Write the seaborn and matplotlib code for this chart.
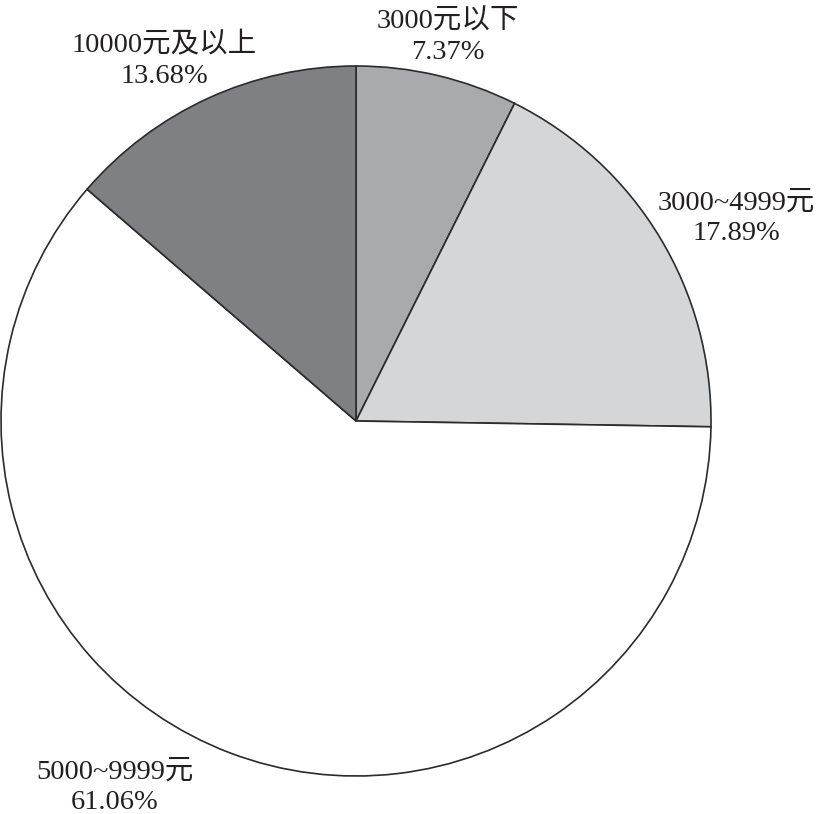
import matplotlib
matplotlib.use('Agg')
import matplotlib.pyplot as plt
import seaborn as sns

# 数据
categories = ['3000元以下', '3000~4999元', '5000~9999元', '10000元及以上']
shares = [7.37, 17.89, 61.06, 13.68]
colors = ['#a9aaad', '#d5d6d8', '#ffffff', '#7f8084']

# 标签位置（像素，左上为原点）
label_pos = [(448, 37), (736, 218), (115, 787), (164, 61)]

sns.set_theme(style='white')
plt.rcParams['font.family'] = ['Liberation Serif', 'Noto Sans CJK SC', 'DejaVu Sans']

W, H = 819, 814
fig = plt.figure(figsize=(W / 100, H / 100), dpi=100)
ax = fig.add_axes([0, 0, 1, 1])

ax.pie(shares, colors=colors, startangle=90, counterclock=False,
       center=(356, H - 421), radius=355,
       wedgeprops=dict(edgecolor='#2b2b2b', linewidth=1.2))

# pie() 会重设坐标范围，之后再设
ax.set_xlim(0, W)
ax.set_ylim(0, H)
ax.set_aspect('equal')
ax.axis('off')

for cat, val, (x, y) in zip(categories, shares, label_pos):
    ax.text(x, H - y, f'{cat}\n{val:.2f}%', ha='center', va='center',
            fontsize=20.5, color='#231f20', linespacing=1.3)

fig.savefig('out.png', dpi=100, facecolor='white')
